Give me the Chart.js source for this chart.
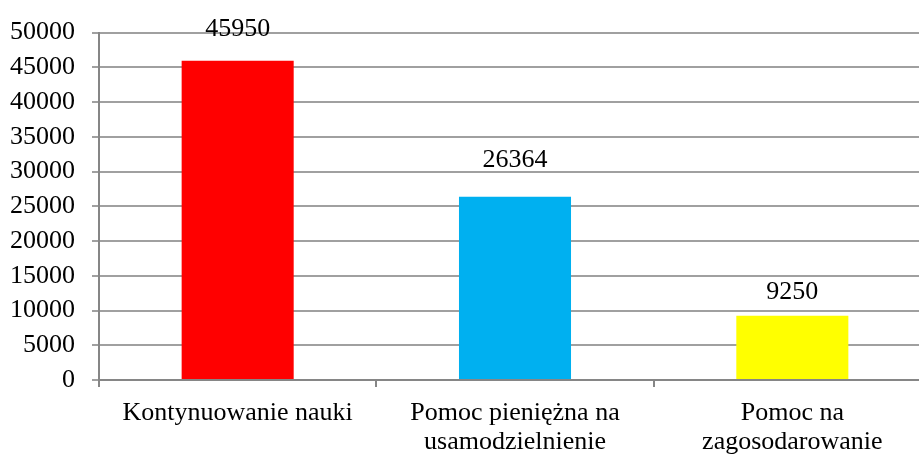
<!DOCTYPE html>
<html>
<head>
<meta charset="utf-8">
<script src="https://cdn.jsdelivr.net/npm/chart.js@4"></script>
<style>
  html, body { margin:0; padding:0; background:#fff; overflow:hidden; }
  #wrap { width:932px; height:454px; position:relative; }
</style>
</head>
<body>
<div id="wrap"><canvas id="chart"></canvas></div>
<script>
const categories = [
    ['Kontynuowanie nauki'],
    ['Pomoc pieniężna na', 'usamodzielnienie'],
    ['Pomoc na', 'zagosodarowanie']
];
const values = [45950, 26364, 9250];
const barColors = ['#ff0000', '#00b0f0', '#ffff00'];
const yTicks = [0, 5000, 10000, 15000, 20000, 25000, 30000, 35000, 40000, 45000, 50000];

/* labels above bars were nudged by hand in the original, keep the gaps */
const labelGap = [25, 30, 17];

const serif = "'Liberation Serif', 'Times New Roman', serif";

const valueLabels = {
    id: 'valueLabels',
    afterDatasetsDraw(chart){
        const ctx = chart.ctx;
        const meta = chart.getDatasetMeta(0);
        ctx.save();
        ctx.font = "26px " + serif;
        ctx.fillStyle = '#000';
        ctx.textAlign = 'center';
        ctx.textBaseline = 'alphabetic';
        meta.data.forEach((bar, i) => {
            ctx.fillText(String(values[i]), bar.x, bar.y - labelGap[i]);
        });
        ctx.restore();
    }
};

new Chart(document.getElementById('chart'), {
    type: 'bar',
    data: {
        labels: categories,
        datasets: [{
            data: values,
            backgroundColor: barColors,
            borderWidth: 0,
            barPercentage: 0.404,
            categoryPercentage: 1
        }]
    },
    options: {
        responsive: true,
        maintainAspectRatio: false,
        animation: false,
        layout: { padding: { left: 9, top: 14, right: 1, bottom: 0 } },
        plugins: {
            legend: { display: false },
            tooltip: { enabled: false }
        },
        scales: {
            x: {
                offset: true,
                afterFit(axis){ axis.height = 74; },
                border: { display: true, color: '#868686', width: 2 },
                grid: {
                    offset: true,
                    drawOnChartArea: false,
                    drawTicks: true,
                    tickLength: 7,
                    color: '#868686',
                    lineWidth: 2
                },
                ticks: {
                    color: '#000',
                    font: { family: serif, size: 26, lineHeight: 1.1 },
                    padding: 12,
                    maxRotation: 0,
                    autoSkip: false
                }
            },
            y: {
                min: 0,
                max: 50000,
                afterBuildTicks(axis){
                    axis.ticks = yTicks.map(v => ({ value: v }));
                },
                afterFit(axis){ axis.width = 90; },
                border: { display: true, color: '#868686', width: 2 },
                grid: {
                    color: '#a0a0a0',
                    lineWidth: 2,
                    tickLength: 7
                },
                ticks: {
                    color: '#000',
                    font: { family: serif, size: 26 },
                    padding: 17,
                    callback: (v) => String(v)
                }
            }
        }
    },
    plugins: [valueLabels]
});
</script>
</body>
</html>
